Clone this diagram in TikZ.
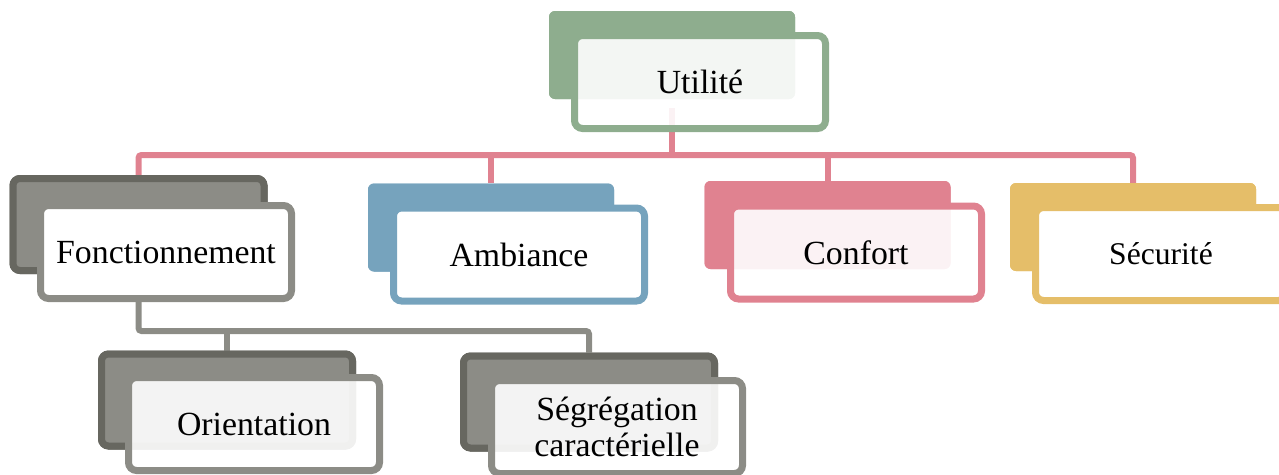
\documentclass[tikz,border=0pt]{standalone}
\usepackage{fontspec}
\setmainfont{Liberation Serif}
\usetikzlibrary{calc}
\definecolor{cgreen}{RGB}{142,173,142}
\definecolor{cpink}{RGB}{224,130,144}
\definecolor{cblue}{RGB}{118,163,189}
\definecolor{cgold}{RGB}{229,190,105}
\definecolor{cgray}{RGB}{140,140,134}
\definecolor{cdark}{RGB}{103,103,96}
\tikzset{
  backbox/.style={rectangle, rounded corners=6pt, fill=#1, draw=none,
    minimum width=246pt, minimum height=88pt, inner sep=0pt},
  darkback/.style={rectangle, rounded corners=7pt, fill=cgray, draw=cdark, line width=7pt,
    minimum width=251pt, minimum height=92pt, inner sep=0pt},
  frontbox/.style={rectangle, rounded corners=8pt, fill=white, draw=#1, line width=7pt,
    minimum width=251pt, minimum height=93pt, inner sep=0pt, align=center,
    font=\fontsize{33.8}{36.5}\selectfont},
  tinted/.style={fill opacity=0.9, text opacity=1},
  conn/.style={line width=6pt, draw=#1, rounded corners=3pt}
}
\begin{document}
\begin{tikzpicture}[x=1pt,y=-1pt]
\useasboundingbox (0,0) rectangle (1279,474);
\clip (0,0) rectangle (1279,474);
% back boxes
\node[backbox=cgreen] (utiB) at (672,55) {};
\node[darkback] (fonB) at (138.5,224.5) {};
\node[backbox=cblue] (ambB) at (491,227.5) {};
\node[backbox=cpink] (conB) at (827.5,225) {};
\node[backbox=cgold] (secB) at (1133,227) {};
\node[darkback] (oriB) at (227,400) {};
\node[darkback] (segB) at (589,402) {};
% buses
\coordinate (pbus) at (0,155);
\coordinate (gbus) at (0,331);
% pink connectors
\draw[conn=cpink] ($(utiB.south)+(0,9)$) -- (utiB.south |- pbus);
\draw[conn=cpink] (fonB.north) -- (fonB.north |- pbus) -- (secB.north |- pbus) -- (secB.north);
\draw[conn=cpink] (ambB.north |- pbus) -- (ambB.north);
\draw[conn=cpink] (conB.north |- pbus) -- (conB.north);
% gray connectors
\draw[conn=cgray] (fonB.south) -- (fonB.south |- gbus) -- (segB.north |- gbus) -- (segB.north);
\draw[conn=cgray] (oriB.north |- gbus) -- (oriB.north);
% redraw back boxes over connectors
\node[backbox=cgreen] at (utiB) {};
\node[darkback] at (fonB) {};
\node[backbox=cblue] at (ambB) {};
\node[backbox=cpink] at (conB) {};
\node[backbox=cgold] at (secB) {};
\node[darkback] at (oriB) {};
\node[darkback] at (segB) {};
% front boxes
\node[frontbox=cgreen, tinted] (utiF) at (700,82) {Utilité};
\node[frontbox=cgray] (fonF) at (166,252) {Fonctionnement};
\node[frontbox=cblue] (ambF) at (519,254.5) {Ambiance};
\node[frontbox=cpink, tinted] (conF) at (856,252.5) {Confort};
\node[frontbox=cgold, font=\fontsize{31.6}{34}\selectfont] (secF) at (1161,254) {Sécurité};
\node[frontbox=cgray, tinted] (oriF) at (254,424) {Orientation};
\node[frontbox=cgray, tinted] (segF) at (617,427) {Ségrégation\\caractérielle};
\end{tikzpicture}
\end{document}
